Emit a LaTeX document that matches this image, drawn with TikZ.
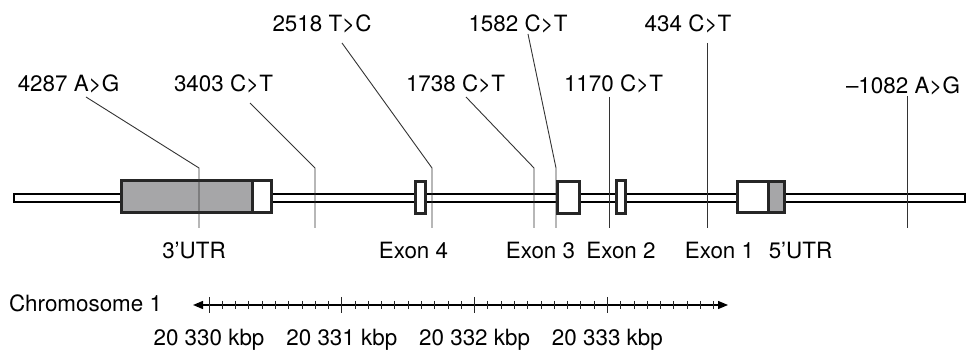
\documentclass[tikz,border=0pt]{standalone}
\usepackage{fontspec}
\setmainfont{TeX Gyre Heros}
\usetikzlibrary{positioning,arrows.meta}
\definecolor{utrgray}{RGB}{166,166,168}
\tikzset{
    backbone/.style={draw=black, line width=0.65pt, fill=white},
    exonbox/.style={draw=black!85, line width=1.5pt, fill=white},
    utrbox/.style={exonbox, fill=utrgray},
    leader/.style={draw=black!80, line width=0.45pt},
    snp/.style={inner sep=0pt, anchor=base, font=\fontsize{11.2}{13}\selectfont},
    part/.style={snp},
    rulertick/.style={draw=black!85, line width=0.45pt}
}

\begin{document}
\begin{tikzpicture}[x=0.5pt,y=-0.5pt]
        \useasboundingbox (0,0) rectangle (977,351);
        % gene with exons and UTRs
        \draw[backbone] (14,194) rectangle (965,202);
        \draw[utrbox] (121,181) rectangle (252,213);
        \draw[exonbox] (252,181) rectangle (271,213);
        \draw[exonbox] (415,182) rectangle (425,214);
        \draw[exonbox] (557,182) rectangle (579,214);
        \draw[exonbox] (616,181) rectangle (625,214);
        \draw[exonbox] (737,182) rectangle (768,213);
        \draw[utrbox] (768,182) rectangle (784,213);

        % variant labels
        \node[snp] (l2518) at (322,31.5) {2518 T>C};
        \node[snp] (l1582) at (518,31.5) {1582 C>T};
        \node[snp] (l434) at (688,31.5) {434 C>T};
        \node[snp] (l4287) at (68.5,91.5) {4287 A>G};
        \node[snp] (l3403) at (223.5,91.5) {3403 C>T};
        \node[snp] (l1738) at (455.5,91.5) {1738 C>T};
        \node[snp] (l1170) at (613.5,91.5) {1170 C>T};
        \node[snp] (l1082) at (903,93.5) {–1082 A>G};

        % knees and ends of the leaders
        \coordinate (k4287) at (199,168);  \coordinate (e4287) at (199,228);
        \coordinate (k3403) at (315,168);  \coordinate (e3403) at (315,228);
        \coordinate (k2518) at (432,168);  \coordinate (e2518) at (432,228);
        \coordinate (k1738) at (534,168);  \coordinate (e1738) at (534,228);
        \coordinate (k1582) at (556,168);  \coordinate (e1582) at (556,228);
        \coordinate (e1170) at (609,228);
        \coordinate (e434) at (707,228);
        \coordinate (e1082) at (907,228);

        \draw[leader] ([shift={(17.5,5.5)}]l4287.base) -- (k4287) -- (e4287);
        \draw[leader] ([shift={(26.5,11.5)}]l3403.base) -- (k3403) -- (e3403);
        \draw[leader] ([shift={(20,11.5)}]l2518.base) -- (k2518) -- (e2518);
        \draw[leader] ([shift={(10.5,5.5)}]l1738.base) -- (k1738) -- (e1738);
        \draw[leader] ([shift={(10,2.5)}]l1582.base) -- (k1582) -- (e1582);
        \draw[leader] ([shift={(-4.5,5.5)}]l1170.base) -- (e1170);
        \draw[leader] ([shift={(19,11.5)}]l434.base) -- (e434);
        \draw[leader] ([shift={(4,2.5)}]l1082.base) -- (e1082);

        % parts of the gene
        \node[part] (utr3) at (194,258.5) {3’UTR};
        \node[part] (exon4) at (413.5,258.5) {Exon 4};
        \node[part] (exon3) at (540.5,258.5) {Exon 3};
        \node[part] (exon2) at (621,258.5) {Exon 2};
        \node[part] (exon1) at (719.5,258.5) {Exon 1};
        \node[part] (utr5) at (800.5,258.5) {5’UTR};

        % chromosome ruler
        \node[part] (chrom) at (85.5,311.5) {Chromosome 1};
        \coordinate (rulerL) at (193,305);
        \coordinate (rulerR) at (728,305);
        \draw[line width=0.65pt, {Triangle[length=5pt,width=4pt]}-{Triangle[length=5pt,width=4pt]}] (rulerL) -- (rulerR);
        \foreach \i in {0,...,38} {
            \pgfmathsetmacro{\tl}{ifthenelse(mod(\i,10)==0,8,4)}
            \draw[rulertick] (209+\i*13.28,305-\tl) -- (209+\i*13.28,305+\tl);
        }
        \foreach \k/\x in {330/209,331/341.8,332/474.6,333/607.4}
            \node[part] (kbp\k) at (\x,345) {20 \k\ kbp};
      \end{tikzpicture}
\end{document}
